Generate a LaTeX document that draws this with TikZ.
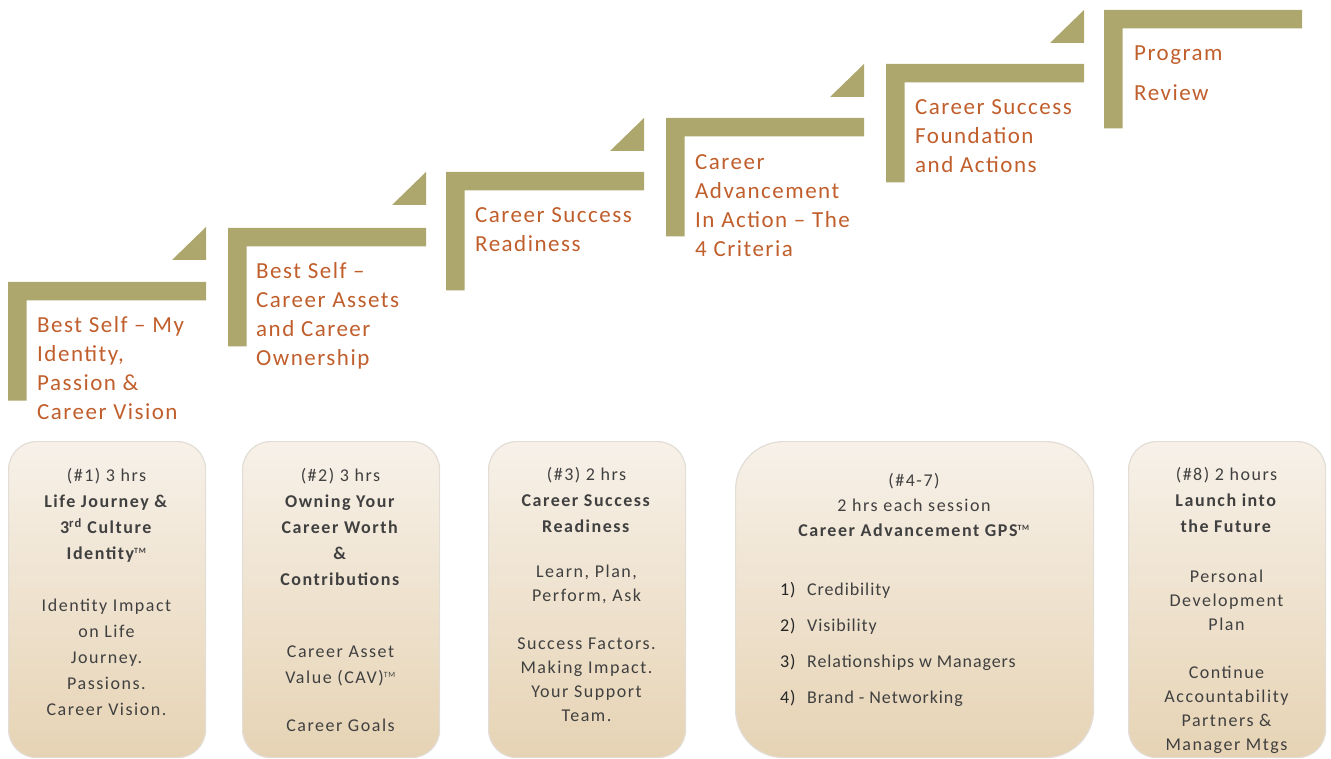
\documentclass[tikz,border=0pt]{standalone}
\usepackage{fontspec}
\setmainfont{Carlito}
\newfontfamily\stepfont[LetterSpace=6.5]{Carlito}
\newfontfamily\boxfont[LetterSpace=8.5]{Carlito}
\newfontfamily\listfont[LetterSpace=5]{Carlito}
\usepackage{tikz}
\usetikzlibrary{positioning}

\definecolor{stepolive}{RGB}{173,167,109}
\definecolor{labelorange}{RGB}{192,94,44}
\definecolor{textgray}{RGB}{64,64,64}
\definecolor{boxtop}{RGB}{247,241,233}
\definecolor{boxbottom}{RGB}{230,211,180}
\definecolor{boxedge}{RGB}{226,221,214}

\newcommand{\tmark}{\textsuperscript{\fontsize{8}{8}\selectfont TM}}

\tikzset{
        stepbar/.style={fill=stepolive},
        steplabel/.style={anchor=north west, inner sep=0pt, align=left, text=labelorange, font=\stepfont\fontsize{23}{29}\selectfont},
        session/.style={rectangle, anchor=north west, minimum height=316pt, top color=boxtop, bottom color=boxbottom, draw=boxedge, line width=1.2pt},
        sessiontext/.style={anchor=north, inner sep=0pt, align=center, text=textgray, font=\boxfont\fontsize{18}{26}\selectfont}
}

\begin{document}
\begin{tikzpicture}[x=1pt,y=-1pt]
        \useasboundingbox (0,0) rectangle (1331,759);
        \foreach \x/\y in {8/282, 228/228, 446/172, 666/118, 886/64, 1104/10}
                \fill[stepbar] (\x,\y) -- ++(198,0) -- ++(0,18.5) -- ++(-179.5,0) -- ++(0,100) -- ++(-18.5,0) -- cycle;
        \foreach \x/\t in {8/227, 228/172, 446/118, 666/64, 886/10}
                \fill[stepbar] (\x+198,\t) -- ++(0,33) -- ++(-34,0) -- cycle;
        \node[steplabel] (l1) at (37,311.7) {\strut Best Self – My\\Identity,\\Passion \&\\Career Vision};
        \node[steplabel] (l2) at (256,257.7) {\strut Best Self –\\Career Assets\\and Career\\Ownership};
        \node[steplabel] (l3) at (475,201.7) {\strut Career Success\\Readiness};
        \node[steplabel] (l4) at (695,148.7) {\strut Career\\Advancement\\In Action – The\\4 Criteria};
        \node[steplabel] (l5) at (915,93.7) {\strut Career Success\\Foundation\\and Actions};
        \node[steplabel] (l6) at (1134,39.7) {\strut Program\\[11pt]Review};

        \node[session, minimum width=197pt, rounded corners=28pt] (s1) at (8,441) {};
        \node[session, minimum width=197pt, rounded corners=28pt] (s2) at (242,441) {};
        \node[session, minimum width=197pt, rounded corners=28pt] (s3) at (488,441) {};
        \node[session, minimum width=358pt, rounded corners=48pt] (s4) at (735,441) {};
        \node[session, minimum width=197pt, rounded corners=28pt] (s5) at (1128,441) {};

        \node[sessiontext] (t1) at (106.5,463.5) {\strut(\#1) 3 hrs\\\textbf{Life Journey \&}\\\textbf{3\textsuperscript{rd} Culture}\\\textbf{Identity\tmark}\\[26pt]Identity Impact\\on Life\\Journey.\\Passions.\\Career Vision.};
        \node[sessiontext] (t2) at (340.5,463.5) {\strut(\#2) 3 hrs\\\textbf{Owning Your}\\\textbf{Career Worth}\\\textbf{\&}\\\textbf{Contributions}\\[46pt]Career Asset\\Value (CAV)\tmark\\[22pt]Career Goals};
        \node[sessiontext] (t3) at (586.5,462.5) {\strut(\#3) 2 hrs\\\textbf{Career Success}\\\textbf{Readiness}\\[19pt]Learn, Plan,\\[-2pt]Perform, Ask\\[22pt]Success Factors.\\[-2pt]Making Impact.\\[-2pt]Your Support\\[-2pt]Team.};
        \node[sessiontext] (t4) at (914,468.5) {\strut(\#4-7)\\[-1pt]2 hrs each session\\[-1pt]\textbf{Career Advancement GPS\tmark}};
        \node[sessiontext, anchor=north west, align=left, font=\listfont\fontsize{18}{26}\selectfont] (t4list) at (780,576.8) {\strut\makebox[27pt][l]{\color{black!85}1)}Credibility\\[10pt]\makebox[27pt][l]{\color{black!85}2)}Visibility\\[10pt]\makebox[27pt][l]{\color{black!85}3)}Relationships w Managers\\[10pt]\makebox[27pt][l]{\color{black!85}4)}Brand - Networking};
        \node[sessiontext] (t5) at (1226.5,461.8) {\strut(\#8) 2 hours\\\textbf{Launch into}\\\textbf{the Future}\\[24pt]Personal\\[-2pt]Development\\[-2pt]Plan\\[22pt]Continue\\[-2pt]Accountability\\[-2pt]Partners \&\\[-2pt]Manager Mtgs};
\end{tikzpicture}
\end{document}
